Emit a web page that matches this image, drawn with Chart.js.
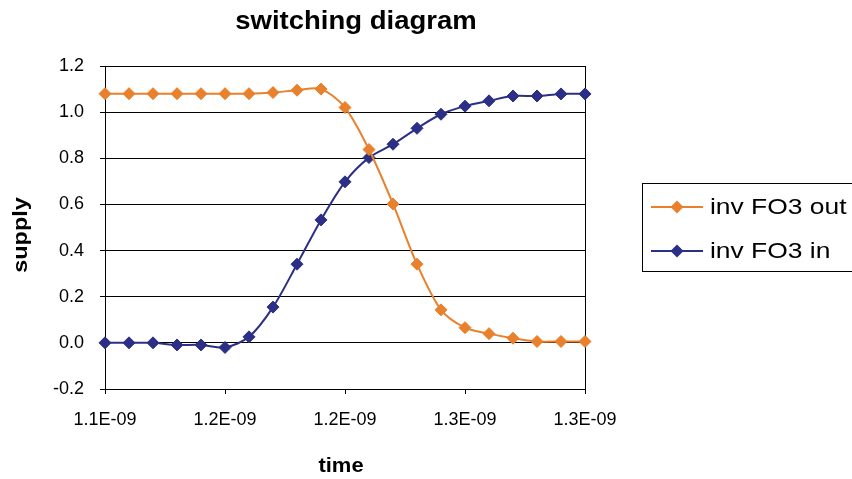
<!DOCTYPE html>
<html>
<head>
<meta charset="utf-8">
<script src="https://cdn.jsdelivr.net/npm/chart.js@4.4.1/dist/chart.umd.min.js"></script>
<style>
  html, body { margin: 0; padding: 0; background: #fff; }
  #wrap { width: 852px; height: 479px; position: relative; }
</style>
</head>
<body>
<div id="wrap"><canvas id="c" width="852" height="479"></canvas></div>
<script>
// Simulation time samples (seconds)
const times = [
  1.10e-9, 1.11e-9, 1.12e-9, 1.13e-9, 1.14e-9, 1.15e-9, 1.16e-9,
  1.17e-9, 1.18e-9, 1.19e-9, 1.20e-9, 1.21e-9, 1.22e-9, 1.23e-9,
  1.24e-9, 1.25e-9, 1.26e-9, 1.27e-9, 1.28e-9, 1.29e-9, 1.30e-9
];

// Inverter output voltage
const outValues = [
  1.08, 1.08, 1.08, 1.08, 1.08, 1.08, 1.08,
  1.085, 1.095, 1.10, 1.02, 0.838, 0.602, 0.341,
  0.143, 0.066, 0.040, 0.020, 0.006, 0.006, 0.006
];

// Inverter input voltage
const inValues = [
  0.0, 0.0, 0.0, -0.009, -0.009, -0.02, 0.026,
  0.155, 0.341, 0.533, 0.698, 0.803, 0.861, 0.930,
  0.991, 1.026, 1.049, 1.070, 1.070, 1.079, 1.079
];

const seriesNames = ['inv FO3 out', 'inv FO3 in'];
const seriesColors = ['#E8802C', '#2B2F86'];

const xTickValues = [1.10e-9, 1.15e-9, 1.20e-9, 1.25e-9, 1.30e-9];
const xTickLabels = ['1.1E-09', '1.2E-09', '1.2E-09', '1.3E-09', '1.3E-09'];

const chartTitle = 'switching diagram';
const xTitle = 'time';
const yTitle = 'supply';

const FONT = "'Liberation Sans', Arial, sans-serif";
Chart.defaults.font.family = FONT;
Chart.defaults.color = '#000';

function toPoints(vals) {
  return vals.map((v, i) => ({ x: times[i], y: v }));
}

function makeDataset(label, vals, color) {
  return {
    label: label,
    data: toPoints(vals),
    borderColor: color,
    backgroundColor: color,
    borderWidth: 2,
    pointStyle: 'rectRot',
    pointRadius: 6,
    pointHoverRadius: 6,
    pointBorderWidth: 1,
    pointBackgroundColor: color,
    pointBorderColor: color,
    tension: 0.3,
    clip: false
  };
}

// Text drawn with a horizontal stretch factor
function wideText(ctx, text, x, y, sx, rot) {
  ctx.save();
  ctx.translate(x, y);
  if (rot) ctx.rotate(rot);
  ctx.scale(sx, 1);
  ctx.fillText(text, 0, 0);
  ctx.restore();
}

// Plot frame, titles and boxed legend
const decorations = {
  id: 'decorations',
  beforeDatasetsDraw(chart) {
    const { ctx, chartArea: a } = chart;
    ctx.save();
    ctx.strokeStyle = '#000';
    ctx.lineWidth = 1;
    ctx.beginPath();
    ctx.moveTo(Math.round(a.right) + 0.5, a.top);
    ctx.lineTo(Math.round(a.right) + 0.5, a.bottom);
    ctx.stroke();
    ctx.restore();
  },
  afterDraw(chart) {
    const { ctx } = chart;
    ctx.save();
    ctx.fillStyle = '#000';
    ctx.textBaseline = 'middle';

    // chart title
    ctx.font = 'bold 25px ' + FONT;
    ctx.textAlign = 'center';
    wideText(ctx, chartTitle, 356, 22, 1.1, 0);

    // axis titles
    ctx.font = 'bold 20px ' + FONT;
    wideText(ctx, xTitle, 341, 466, 1.1, 0);
    wideText(ctx, yTitle, 21, 235, 1.17, -Math.PI / 2);

    // legend
    const bx = 642.5, by = 183.5, bw = 220, bh = 88;
    ctx.strokeStyle = '#000';
    ctx.lineWidth = 1;
    ctx.strokeRect(bx, by, bw, bh);
    ctx.font = '22px ' + FONT;
    ctx.textAlign = 'left';
    const rows = [207, 251];
    chart.data.datasets.forEach((ds, i) => {
      const y = rows[i];
      ctx.strokeStyle = ds.borderColor;
      ctx.lineWidth = 2;
      ctx.beginPath();
      ctx.moveTo(651, y);
      ctx.lineTo(703, y);
      ctx.stroke();
      ctx.fillStyle = ds.borderColor;
      ctx.beginPath();
      ctx.moveTo(677 - 6.5, y);
      ctx.lineTo(677, y - 6.5);
      ctx.lineTo(677 + 6.5, y);
      ctx.lineTo(677, y + 6.5);
      ctx.closePath();
      ctx.fill();
      ctx.fillStyle = '#000';
      wideText(ctx, ds.label, 710, y + 1, 1.2, 0);
    });
    ctx.restore();
  }
};

new Chart(document.getElementById('c'), {
  type: 'line',
  data: {
    datasets: [
      makeDataset(seriesNames[0], outValues, seriesColors[0]),
      makeDataset(seriesNames[1], inValues, seriesColors[1])
    ]
  },
  options: {
    responsive: false,
    animation: false,
    devicePixelRatio: 1,
    layout: { padding: { left: 0, top: 66, right: 267, bottom: 0 } },
    plugins: {
      legend: { display: false },
      title: { display: false },
      tooltip: { enabled: false }
    },
    scales: {
      x: {
        type: 'linear',
        min: 1.10e-9,
        max: 1.30e-9,
        afterBuildTicks(scale) {
          scale.ticks = xTickValues.map(v => ({ value: v }));
        },
        afterFit(scale) { scale.height = 90; },
        ticks: {
          autoSkip: false,
          maxRotation: 0,
          padding: 15,
          font: { size: 18 },
          callback: (v, i) => xTickLabels[i]
        },
        grid: {
          drawOnChartArea: false,
          drawTicks: true,
          tickLength: 5,
          color: '#000'
        },
        border: { color: '#000', width: 1 },
        title: { display: false }
      },
      y: {
        min: -0.2,
        max: 1.2,
        afterFit(scale) { scale.width = 105; },
        ticks: {
          stepSize: 0.2,
          padding: 16,
          font: { size: 18 },
          callback: v => (Math.abs(v) < 1e-9 ? 0 : v).toFixed(1)
        },
        grid: {
          color: '#000',
          drawTicks: true,
          tickLength: 5
        },
        border: { color: '#000', width: 1 },
        title: { display: false }
      }
    }
  },
  plugins: [decorations]
});
</script>
</body>
</html>
